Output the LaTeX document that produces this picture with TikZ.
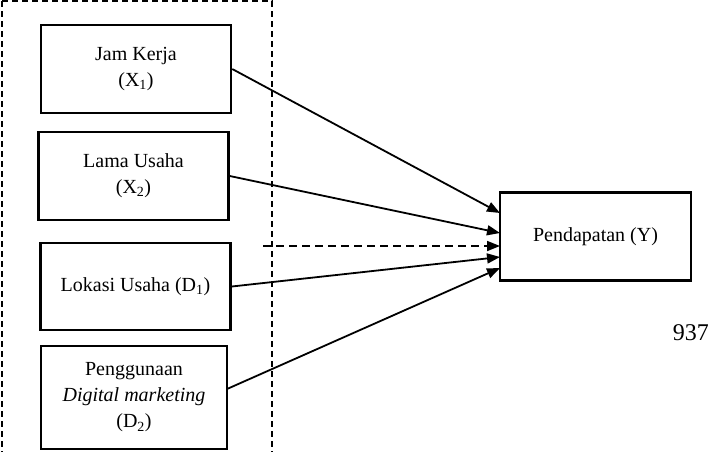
\documentclass[tikz,border=0pt]{standalone}
\usepackage{fontspec}
\setmainfont{Liberation Serif}
\usetikzlibrary{arrows.meta}

\tikzset{
  varbox/.style={draw, line width=2.5pt, align=center, inner sep=0pt,
    minimum width=190pt, font=\fontsize{20}{26}\selectfont},
  link/.style={line width=1.8pt, -{Triangle[length=13pt,width=10pt]}}
}

\begin{document}
\begin{tikzpicture}[x=1pt,y=-1pt]
\useasboundingbox (0,0) rectangle (708,451);

\draw[line width=1.6pt, dash pattern=on 6pt off 4pt] (2,1) -- (272,1) -- (272,470);
\draw[line width=1.6pt, dash pattern=on 6pt off 4pt] (2,1) -- (2,470);

\node[varbox, minimum height=88pt] (jam) at (136,69) {Jam Kerja\\(X\textsubscript{1})};
\node[varbox, minimum height=88pt] (lama) at (133.5,176) {Lama Usaha\\(X\textsubscript{2})};
\node[varbox, minimum height=87pt] (lokasi) at (135.5,286.5) {Lokasi Usaha (D\textsubscript{1})};
\node[varbox, minimum width=186pt, minimum height=103pt] (digital) at (134,397.5)
  {Penggunaan\\\textit{Digital marketing}\\(D\textsubscript{2})};
\node[varbox, minimum width=191pt, minimum height=88pt] (pendapatan) at (595.5,236.5) {Pendapatan (Y)};

\coordinate (y1) at (500,213);
\coordinate (y2) at (500,233);
\coordinate (y0) at (500,246);
\coordinate (y3) at (500,257);
\coordinate (y4) at (500,268);
\coordinate (d0) at (263,246);
\coordinate (d4) at (227,389);

\draw[link] (jam.east) -- (y1);
\draw[link] (lama.east) -- (y2);
\draw[link, dash pattern=on 8pt off 5pt] (d0) -- (y0);
\draw[link] (lokasi.east) -- (y3);
\draw[link] (d4) -- (y4);

\node[font=\fontsize{24}{28}\selectfont, anchor=east, inner sep=0pt] (page) at (709,333) {937};
\end{tikzpicture}
\end{document}
